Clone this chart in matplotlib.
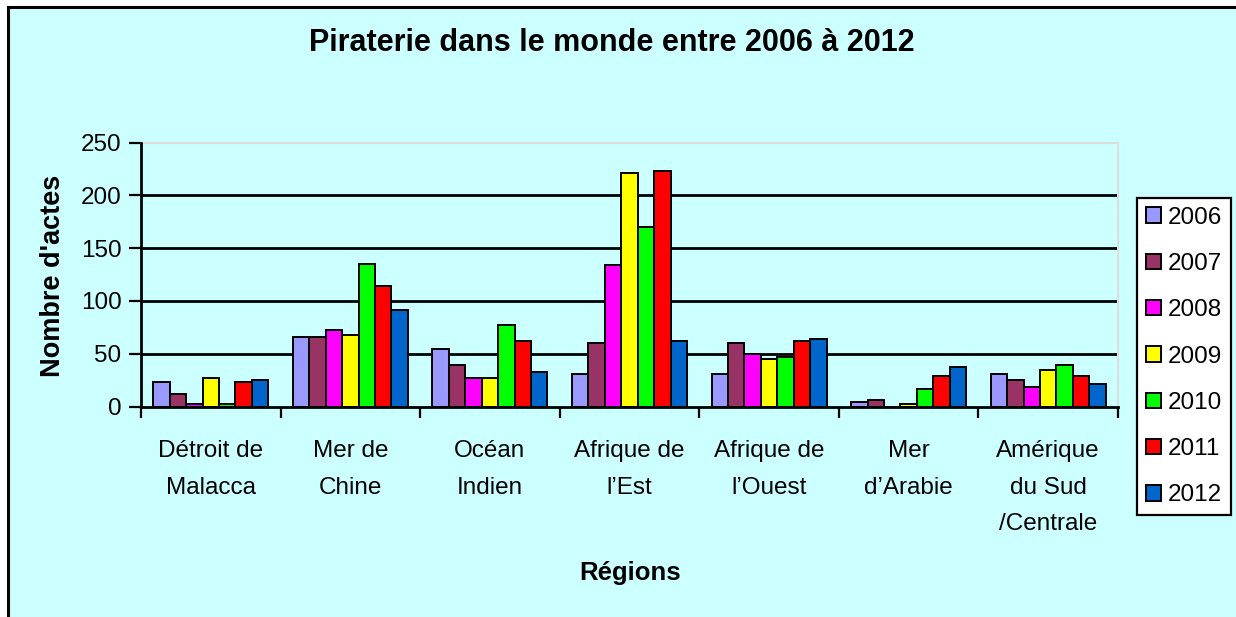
import numpy as np
import matplotlib
matplotlib.use("Agg")
import matplotlib.pyplot as plt
from matplotlib.patches import Rectangle

plt.rcParams['font.family'] = ['Liberation Sans', 'DejaVu Sans']

regions = ["Détroit de\nMalacca", "Mer de\nChine", "Océan\nIndien", "Afrique de\nl’Est",
           "Afrique de\nl’Ouest", "Mer\nd’Arabie", "Amérique\ndu Sud\n/Centrale"]
years = ["2006", "2007", "2008", "2009", "2010", "2011", "2012"]

acts_2006 = [23, 66, 54, 31, 31, 4, 31]
acts_2007 = [12, 66, 39, 60, 60, 6, 25]
acts_2008 = [2, 72, 27, 134, 50, 0, 18]
acts_2009 = [27, 68, 27, 221, 45, 2, 35]
acts_2010 = [2, 135, 77, 170, 47, 17, 39]
acts_2011 = [23, 114, 62, 223, 62, 29, 29]
acts_2012 = [25, 91, 33, 62, 64, 37, 21]

series = [acts_2006, acts_2007, acts_2008, acts_2009, acts_2010, acts_2011, acts_2012]
colors = ["#9999FF", "#993366", "#FF00FF", "#FFFF00", "#00FF00", "#FF0000", "#0066CC"]
bg = "#CCFFFF"

W, H = 1236, 617
fig = plt.figure(figsize=(W / 100, H / 100), dpi=100, facecolor="white")

# chart area with its black frame (right/bottom run off the canvas)
fig.patches.append(Rectangle((8 / W, -0.05), 1.1, 1 - 7 / H + 0.05, transform=fig.transFigure,
                             facecolor=bg, edgecolor="black", linewidth=2.2, zorder=-5))

ax = fig.add_axes([141 / W, 1 - 406.5 / H, (1118 - 141) / W, (406.5 - 142.5) / H])
ax.set_facecolor(bg)

x = np.arange(len(regions))
w = 1 / 8.5
for i, (vals, c, yr) in enumerate(zip(series, colors, years)):
    ax.bar(x + (i - 3) * w, vals, width=w, color=c, edgecolor="black", linewidth=1.4,
           label=yr, zorder=3)

ax.set_xlim(-0.5, len(regions) - 0.5)
ax.set_ylim(0, 250)
ax.set_yticks([0, 50, 100, 150, 200, 250])
for v in [50, 100, 150, 200]:
    ax.axhline(v, color="black", linewidth=2, zorder=1)

ax.set_xticks(x)
ax.set_xticklabels(regions, fontsize=17.5, linespacing=1.87)
ax.set_xticks(np.arange(-0.5, len(regions)), minor=True)
ax.tick_params(axis="x", which="major", length=0, pad=24)
ax.tick_params(axis="x", which="minor", length=8, width=1.6, direction="out")
ax.tick_params(axis="y", labelsize=17.5, length=9, width=1.6, direction="out", pad=5)

for s in ["left", "bottom"]:
    ax.spines[s].set_linewidth(2)
    ax.spines[s].set_zorder(4)
for s in ["top", "right"]:
    ax.spines[s].set_color("#DDDDDD")
    ax.spines[s].set_linewidth(1.5)

fig.text(612 / W, 1 - 43 / H, "Piraterie dans le monde entre 2006 à 2012",
         ha="center", va="center", fontsize=22, fontweight="bold")
fig.text(630 / W, 1 - 573 / H, "Régions", ha="center", va="center",
         fontsize=18.5, fontweight="bold")
fig.text(53 / W, 1 - 276 / H, "Nombre d'actes", ha="center", va="center",
         rotation=90, fontsize=19.5, fontweight="bold")

leg = ax.legend(loc="center", bbox_to_anchor=(1184 / W, 1 - 356.5 / H),
                bbox_transform=fig.transFigure, fontsize=17.5, frameon=True, fancybox=False,
                edgecolor="black", facecolor="white", framealpha=1,
                handlelength=0.6, handleheight=0.6, handletextpad=0.3,
                labelspacing=1.0, borderpad=0.35, borderaxespad=0)
leg.get_frame().set_linewidth(1.6)

fig.savefig("out.png", dpi=100, facecolor="white")
